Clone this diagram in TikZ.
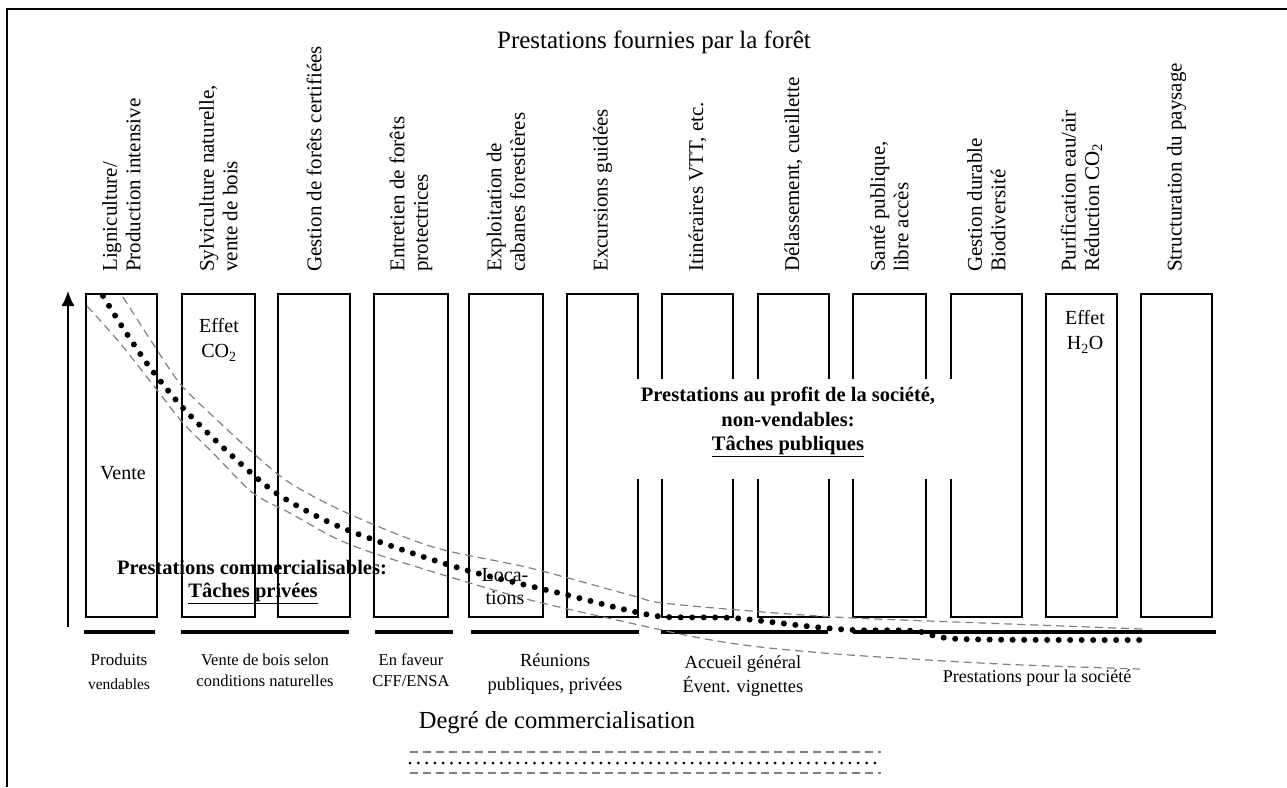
\documentclass[tikz,border=0pt]{standalone}
\usepackage{fontspec}
\setmainfont{Liberation Serif}
\usetikzlibrary{arrows.meta}
\begin{document}
\begin{tikzpicture}[x=1pt,y=-1pt,
  frame/.style={line width=1.4pt},
  boxline/.style={line width=1.9pt,line join=miter},
  barline/.style={line width=4.8pt},
  collab/.style={rotate=90,anchor=west,inner sep=0pt,align=left,font=\fontsize{21}{23.5}\selectfont},
  intext/.style={inner sep=0pt,align=center,font=\fontsize{20}{25}\selectfont},
  boldtext/.style={inner sep=0pt,align=center,font=\fontsize{20.5}{24.5}\selectfont\bfseries},
  botlab/.style={inner sep=0pt,align=center,font=\fontsize{16.5}{21}\selectfont},
  botlabb/.style={inner sep=0pt,align=center,font=\fontsize{18.5}{24}\selectfont},
  dotline/.style={line width=6pt,line cap=round,dash pattern=on 0pt off 11.5pt},
  envline/.style={gray,line width=1.2pt,dash pattern=on 8pt off 5pt},
  legdots/.style={line width=3pt,line cap=round,dash pattern=on 0pt off 8.3pt},
]
\useasboundingbox (0,0) rectangle (1287,787);
% frame
\draw[frame] (7,787) -- (7,9) -- (1287,9);
% title
\node[inner sep=0pt,font=\fontsize{25}{30}\selectfont] (title) at (654,42) {Prestations fournies par la forêt};
% column labels
\node[collab] (c1) at (121.5,272) {Ligniculture/\\Production intensive};
\node[collab] (c2) at (218.5,272) {Sylviculture naturelle,\\vente de bois};
\node[collab] (c3) at (314,272) {Gestion de forêts certifiées};
\node[collab] (c4) at (411,272) {Entretien de forêts\\protectrices};
\node[collab] (c5) at (506,272) {Exploitation de\\cabanes forestières};
\node[collab] (c6) at (602.5,272) {Excursions guidées};
\node[collab] (c7) at (697.5,272) {Itinéraires VTT, etc.};
\node[collab] (c8) at (793.5,272) {Délassement, cueillette};
\node[collab] (c9) at (889.5,272) {Santé publique,\\libre accès};
\node[collab] (c10) at (986.5,272) {Gestion durable\\Biodiversité};
\node[collab] (c11) at (1081.5,272) {Purification eau/air\\Réduction CO\textsubscript{2}};
\node[collab] (c12) at (1176.5,272) {Structuration du paysage};
% full boxes
\foreach \l/\r in {86/157,182/255,278/350,374/448,469/543,1046/1117,1141/1212}
  \draw[boxline] (\l,294) rectangle (\r,617);
% boxes with a gap
\draw[boxline] (638,379) -- (638,294) -- (567,294) -- (567,617) -- (638,617) -- (638,479);
\foreach \l/\r in {662/733,758/829,853/926}{
  \draw[boxline] (\l,379) -- (\l,294) -- (\r,294) -- (\r,379);
  \draw[boxline] (\l,479) -- (\l,617) -- (\r,617) -- (\r,479);
}
\draw[boxline] (951,379) -- (951,294) -- (1022,294) -- (1022,617) -- (951,617) -- (951,479);
% bars
\foreach \l/\r in {84/155,181/349,375/453,471/639,661/828,853/1216}
  \draw[barline] (\l,632) -- (\r,632);
% vertical arrow
\coordinate (ya) at (68,627);
\coordinate (yb) at (68,291);
\draw[line width=1.5pt,-{Latex[length=15pt,width=13pt]}] (ya) -- (yb);
% texts in boxes
\node[intext] (vente) at (123,473) {Vente};
\node[intext] (co2) at (219,340) {Effet\\CO\textsubscript{2}};
\node[intext] (h2o) at (1085,332) {Effet\\H\textsubscript{2}O};
\node[inner sep=0pt,align=center,font=\fontsize{20}{23}\selectfont] (loc) at (505,587) {Loca-\\tions};
% envelope curves
\draw[envline] plot[smooth,tension=0.5] coordinates {(123,297) (157,350) (182,386) (217,420) (253,453) (290,483) (347,513) (433,547) (530,568) (630,595) (663,603) (763,612) (853,618) (983,623) (1142,629)};
\draw[envline] plot[smooth,tension=0.5] coordinates {(87,306) (120,343) (157,390) (183,423) (213,453) (253,493) (290,513) (333,537) (373,553) (450,577) (530,600) (630,623) (700,638) (760,647) (850,655) (1000,664) (1140,669)};
% dotted trend
\draw[dotline] plot[smooth,tension=0.5] coordinates {(103,296) (123,328) (151,369) (184,409) (229,453) (276,493) (333,524) (403,550) (473,572) (559,593) (631,611) (667,617) (733,618) (805,626) (853,630) (915,631) (960,639) (1141,640)};
% bold texts
\node[boldtext] (priv1) at (252,568) {Prestations commercialisables:};
\node[boldtext] (priv2) at (253,593) {\underline{Tâches privées}};
\node[boldtext] (pub) at (788,422) {Prestations au profit de la société,\\non-vendables:\\\underline{Tâches publiques}};
% bottom labels
\node[inner sep=0pt,font=\fontsize{17}{21}\selectfont] (b1a) at (119,660) {Produits};
\node[inner sep=0pt,font=\fontsize{15.5}{21}\selectfont] (b1b) at (119,684) {vendables};
\node[botlab] (b2) at (265,670) {Vente de bois selon\\conditions naturelles};
\node[botlab] (b3) at (411,670) {En faveur\\CFF/ENSA};
\node[botlabb] (b4) at (555,674) {Réunions\\publiques, privées};
\node[botlabb] (b5) at (743,676) {Accueil général\\Évent. vignettes};
\node[inner sep=0pt,font=\fontsize{18}{22}\selectfont] (b6) at (1037,678) {Prestations pour la société};
% axis title and legend
\node[inner sep=0pt,font=\fontsize{24.5}{29}\selectfont] (deg) at (557,723) {Degré de commercialisation};
\coordinate (l1a) at (410,752); \coordinate (l1b) at (881,752);
\coordinate (l2a) at (410,763); \coordinate (l2b) at (881,763);
\coordinate (l3a) at (410,773); \coordinate (l3b) at (881,773);
\draw[envline] (l1a) -- (l1b);
\draw[legdots] (l2a) -- (l2b);
\draw[envline] (l3a) -- (l3b);
\end{tikzpicture}
\end{document}
